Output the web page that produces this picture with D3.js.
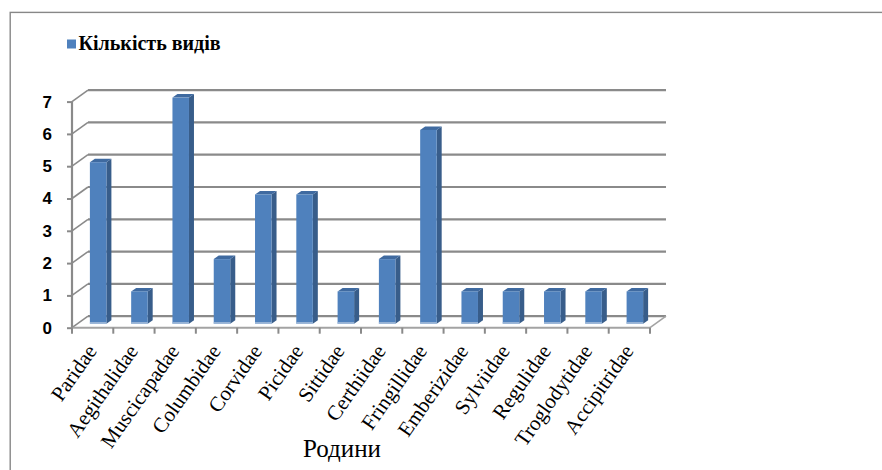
<!DOCTYPE html>
<html><head><meta charset="utf-8">
<script src="https://cdn.jsdelivr.net/npm/d3@7"></script>
<style>
html,body{margin:0;padding:0;background:#fff;}
svg{display:block;}
</style></head>
<body>
<svg id="chart" width="882" height="470"></svg>
<script>
const categories = ["Paridae","Aegithalidae","Muscicapadae","Columbidae","Corvidae","Picidae","Sittidae","Certhiidae","Fringillidae","Emberizidae","Sylviidae","Regulidae","Troglodytidae","Accipitridae"];
const values = [5,1,7,2,4,4,1,2,6,1,1,1,1,1];
const yTicks = [0,1,2,3,4,5,6,7];
const seriesName = "Кількість видів";
const axisTitle = "Родини";

const svg = d3.select("#chart");
const W = 882, H = 470;
const serif = "'Liberation Serif', 'Times New Roman', serif";

// outer border
svg.append("rect").attr("x",10.2).attr("y",12.4).attr("width",W).attr("height",H)
  .attr("fill","none").attr("stroke","#878787").attr("stroke-width",1.4);

// 3D geometry
const D = {x:16, y:-11.5};   // full depth
const d = {x:5, y:-3.5};     // bar depth
const x = d3.scaleBand().domain(categories).range([72,650]).paddingInner(0).paddingOuter(0);
const y = d3.scaleLinear().domain([0,7]).range([327.7,101.6]);
const gridC = "#8a8a8a";

const g = svg.append("g");
yTicks.forEach(t=>{
  const yy = y(t);
  g.append("line").attr("x1",x.range()[0]+D.x).attr("x2",x.range()[1]+D.x)
    .attr("y1",yy+D.y).attr("y2",yy+D.y).attr("stroke",gridC).attr("stroke-width",2.2);
  g.append("line").attr("x1",x.range()[0]).attr("x2",x.range()[0]+D.x)
    .attr("y1",yy).attr("y2",yy+D.y).attr("stroke",gridC).attr("stroke-width",1.6);
});
g.append("line").attr("x1",x.range()[0]).attr("x2",x.range()[1]).attr("y1",y(0)).attr("y2",y(0))
  .attr("stroke","#a3a3a3").attr("stroke-width",2);
g.append("line").attr("x1",x.range()[1]).attr("x2",x.range()[1]+D.x).attr("y1",y(0)).attr("y2",y(0)+D.y)
  .attr("stroke","#a3a3a3").attr("stroke-width",1.6);

// bars
const bw = x.bandwidth()/2.5;
const off = {x:(D.x-d.x)/2, y:(D.y-d.y)/2};
const bars = g.selectAll("g.bar").data(categories.map((c,i)=>({c,v:values[i]}))).enter().append("g");
bars.each(function(p){
  const sel = d3.select(this);
  const x0 = x(p.c) + (x.bandwidth()-bw)/2 + off.x;
  const x1 = x0 + bw;
  const yb = y(0) + off.y;
  const yt = y(p.v) + off.y;
  sel.append("polygon").attr("points",[[x1,yt],[x1+d.x,yt+d.y],[x1+d.x,yb+d.y],[x1,yb]].join(" "))
    .attr("fill","#385d8a");
  sel.append("polygon").attr("points",[[x0,yt],[x0+d.x,yt+d.y],[x1+d.x,yt+d.y],[x1,yt]].join(" "))
    .attr("fill","#3f6aa0");
  sel.append("rect").attr("x",x0).attr("y",yt).attr("width",bw).attr("height",yb-yt).attr("fill","#4f81bd");
  sel.append("rect").attr("x",x0).attr("y",yb-1.5).attr("width",bw).attr("height",1.5).attr("fill","#a7bfdc");
});

// vertical axis
const ya = d3.axisLeft(y).tickValues(yTicks).tickSize(5).tickPadding(15).tickFormat(d3.format("d"));
const yg = svg.append("g").attr("transform",`translate(${x.range()[0]},0)`).call(ya);
yg.select(".domain").attr("stroke","#8a8a8a").attr("stroke-width",2.2).attr("d",`M0,${y(7)}V${y(0)}`);
yg.selectAll(".tick line").attr("stroke","#8a8a8a").attr("stroke-width",2);
yg.selectAll(".tick text").attr("font-family","'Liberation Sans', Arial, sans-serif").attr("font-weight","bold")
  .attr("font-size",17).attr("fill","#000");

// category ticks (band boundaries)
const bounds = categories.map(c=>x(c)).concat([x.range()[1]]);
svg.append("g").selectAll("line").data(bounds).enter().append("line")
  .attr("x1",v=>v).attr("x2",v=>v).attr("y1",y(0)).attr("y2",y(0)+6)
  .attr("stroke","#8a8a8a").attr("stroke-width",2);

// category labels
svg.append("g").selectAll("text").data(categories).enter().append("text")
  .attr("transform",c=>`translate(${x(c)+x.bandwidth()/2+5},351) rotate(-55)`)
  .attr("text-anchor","end").attr("font-family",serif)
  .attr("font-size",21).attr("fill","#000").text(c=>c);

// axis title
svg.append("text").attr("x",342).attr("y",456.5).attr("text-anchor","middle")
  .attr("font-family",serif).attr("font-size",25).attr("fill","#000")
  .text(axisTitle);

// legend
svg.append("rect").attr("x",67).attr("y",39.5).attr("width",9).attr("height",9).attr("fill","#4f81bd");
svg.append("text").attr("x",78.5).attr("y",49.5).attr("font-family",serif)
  .attr("font-weight","bold").attr("font-size",20).attr("fill","#000").text(seriesName);
</script>
</body></html>
